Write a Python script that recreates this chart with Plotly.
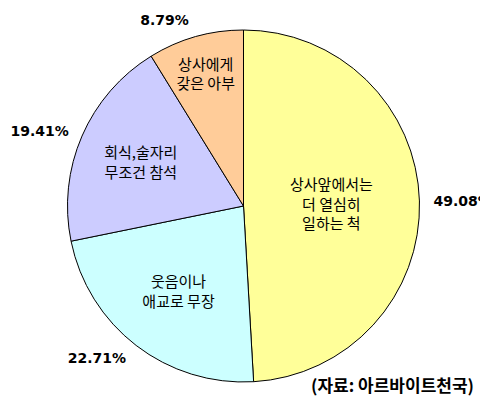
import plotly.graph_objects as go

labels = ["상사앞에서는<br>더 열심히<br>일하는 척", "웃음이나<br>애교로 무장", "회식,술자리<br>무조건 참석", "상사에게<br>갖은 아부"]
values = [49.08, 22.71, 19.41, 8.79]
colors = ["#FFFF99", "#CCFFFF", "#CCCCFF", "#FFCC99"]
source_note = "(자료: 아르바이트천국)"

W, H = 480, 403
cx, cy, r = 243.5, 206, 176
r_lab = r + 10


def dom(rad):
    return dict(x=[(cx - rad) / W, (cx + rad) / W],
                y=[(H - cy - rad) / H, (H - cy + rad) / H])


fig = go.Figure()
fig.add_trace(go.Pie(
    labels=labels, values=values, sort=False, direction="clockwise", rotation=0,
    marker=dict(colors=colors, line=dict(color="black", width=1)),
    textinfo="label", textposition="inside", insidetextorientation="horizontal",
    textfont=dict(family="Noto Sans CJK KR", size=15, color="black"),
    domain=dom(r), showlegend=False, hoverinfo="skip", automargin=False,
))
fig.add_trace(go.Pie(
    labels=labels, values=values, sort=False, direction="clockwise", rotation=0,
    marker=dict(colors=["rgba(0,0,0,0)"] * 4, line=dict(width=0)),
    texttemplate="<b>%{value:.2f}%</b>", textposition="outside",
    textfont=dict(family="DejaVu Sans", size=14, color="black"),
    domain=dom(r_lab), showlegend=False, hoverinfo="skip", automargin=False,
))
fig.add_annotation(text="<b>" + source_note + "</b>", x=476 / W, y=(H - 399) / H,
                   xref="paper", yref="paper",
                   xanchor="right", yanchor="bottom", showarrow=False,
                   font=dict(family="Noto Sans CJK KR", size=17, color="black", weight=900))
fig.update_layout(width=W, height=H, margin=dict(l=0, r=0, t=0, b=0, autoexpand=False),
                  paper_bgcolor="white", plot_bgcolor="white")
fig.write_html("out.html", config={"displayModeBar": False},
               post_script="document.body.style.margin='0';")
